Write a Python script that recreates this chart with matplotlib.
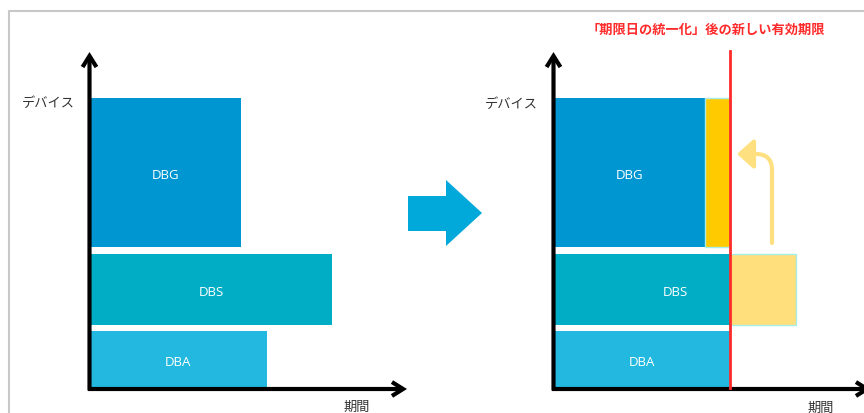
import matplotlib
matplotlib.use('Agg')
import matplotlib.pyplot as plt
from matplotlib.patches import Polygon, FancyArrowPatch, Rectangle
from matplotlib.path import Path

plt.rcParams['font.family'] = ['Noto Sans CJK JP', 'DejaVu Sans']

# data: validity period per device (arbitrary units)
devices = ['DBA', 'DBS', 'DBG']
periods_before = [176, 241, 150]
unified_period = 175
title_text = '「期限日の統一化」後の新しい有効期限'
ylabel_text = 'デバイス'
xlabel_text = '期間'

# layout
bar_bottoms = [0, 63, 141]
bar_heights = [57, 71, 149]
label_x_before = [87, 120, 75]
label_x_after = [87, 120, 75]
bar_colors = ['#23B8E0', '#00ADC5', '#0096D2']
label_font = ['Open Sans', 'DejaVu Sans']
W, H = 864, 414


def draw_axes_arrows(ax):
    kw = dict(arrowstyle='->,head_length=0.4,head_width=0.25', lw=3.0,
              color='black', shrinkA=0, shrinkB=0, clip_on=False,
              mutation_scale=20, joinstyle='miter', capstyle='butt')
    ax.add_patch(FancyArrowPatch((-1.5, -2.5), (-1.5, 336), **kw))
    ax.add_patch(FancyArrowPatch((-3, -1), (316, -1), **kw))


def setup(ax, x0):
    # 1 data unit = 1 px; origin at pixel (x0, 389 from top)
    left = ax.get_position().x0 * W
    ax.set_xlim(left - x0, left - x0 + 432)
    ax.set_ylim(-(H - 389), 389)
    ax.axis('off')


def bar_labels(ax, xs):
    for d, b, h, lx in zip(devices, bar_bottoms, bar_heights, xs):
        ax.text(lx, b + h / 2 - 2, d, color='white', fontsize=9.5,
                ha='center', va='center', family=label_font)


fig = plt.figure(figsize=(W / 100, H / 100), dpi=100)

# background frame and big arrow on an overlay axes in pixel units
bg = fig.add_axes([0, 0, 1, 1])
bg.set_xlim(0, W)
bg.set_ylim(H, 0)
bg.axis('off')
bg.plot([9, 9, W], [H, 12, 12], color='#c8c8c8', lw=1.5)
bg.add_patch(Polygon([(408, 197), (446, 197), (446, 181), (482, 214),
                      (446, 247), (446, 232), (408, 232)],
                     closed=True, color='#00A9DA', lw=0))

# left panel: before
axl = fig.add_axes([0, 0, 0.5, 1])
setup(axl, 91)
axl.barh(bar_bottoms, periods_before, height=bar_heights, align='edge',
         color=bar_colors, lw=0)
bar_labels(axl, label_x_before)
draw_axes_arrows(axl)
axl.text(-69, 286, ylabel_text, fontsize=9.5, color='#333333', va='center')
axl.text(252, -18, xlabel_text, fontsize=9.5, color='#333333', va='center')

# right panel: after unification
axr = fig.add_axes([0.5, 0, 0.5, 1])
setup(axr, 555)
after = [min(p, unified_period) for p in periods_before]
axr.barh(bar_bottoms, after, height=bar_heights, align='edge',
         color=bar_colors, lw=0)
# shorter devices extended to the unified date, longer ones cut back
for b, h, p in zip(bar_bottoms, bar_heights, periods_before):
    if p < unified_period - 1:
        axr.add_patch(Rectangle((p, b), unified_period - p, h,
                                facecolor='#FFCA00', edgecolor='#A8EEE8', lw=1))
    elif p > unified_period + 1:
        axr.add_patch(Rectangle((unified_period, b), p - unified_period, h,
                                facecolor='#FFDF7C', edgecolor='#A8EEE8', lw=1))
bar_labels(axr, label_x_after)
draw_axes_arrows(axr)
axr.plot([unified_period, unified_period], [0, 337], color='#FF2A2A', lw=2,
         clip_on=False)
axr.text(-70, 285, ylabel_text, fontsize=9.5, color='#333333', va='center')
axr.text(252, -19, xlabel_text, fontsize=9.5, color='#333333', va='center')
axr.text(151, 359, title_text, fontsize=9.5, color='#FF2A2A',
         fontweight='bold', ha='center', va='center')

# curved arrow: excess of the longer device moved back up
xs = 217
curve = Path([(xs, 145), (xs, 218), (xs, 234), (xs - 16, 234), (182, 234)],
             [Path.MOVETO, Path.LINETO, Path.CURVE3, Path.CURVE3, Path.LINETO])
axr.add_patch(FancyArrowPatch(path=curve,
                              arrowstyle='-|>,head_length=0.5,head_width=0.45',
                              mutation_scale=20, color='#FFE080', lw=3,
                              clip_on=False))

fig.savefig('out.png', dpi=100)
